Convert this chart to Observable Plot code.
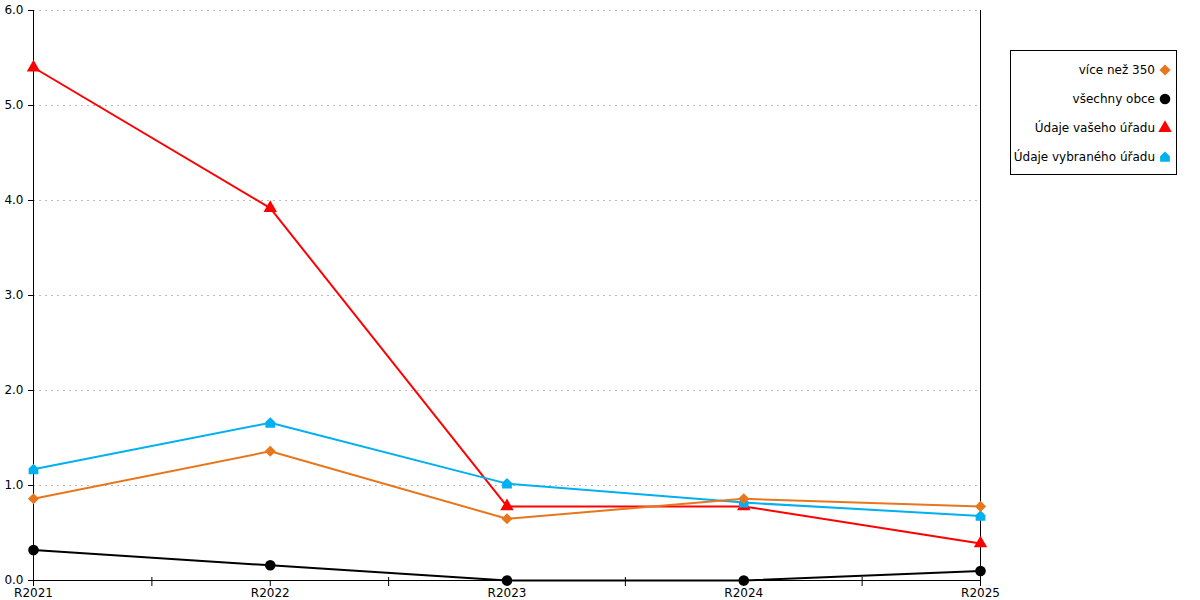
<!DOCTYPE html>
<html>
<head>
<meta charset="utf-8">
<script src="https://cdn.jsdelivr.net/npm/d3@7"></script>
<script src="https://cdn.jsdelivr.net/npm/@observablehq/plot@0.6"></script>
<style>
  html, body { margin: 0; padding: 0; background: #fff; }
  #wrap { position: relative; width: 1200px; height: 600px; font-family: "DejaVu Sans", sans-serif; }
  #legend { position: absolute; left: 1010px; top: 50px; width: 167px; height: 125px; box-sizing: border-box;
            border: 1px solid #000; font-size: 12px; color: #000; padding-top: 4px; }
  .row { display: flex; justify-content: flex-end; align-items: center; height: 29px; padding-right: 3px; }
  .row svg { margin-left: 2px; }
</style>
</head>
<body>
<div id="wrap"><div id="chart"></div><div id="legend"></div></div>
<script>
const categories = ["R2021", "R2022", "R2023", "R2024", "R2025"];
const viceNez350 = [0.86, 1.36, 0.65, 0.86, 0.78];
const vsechnyObce = [0.32, 0.16, 0.0, 0.0, 0.1];
const udajeVasehoUradu = [5.4, 3.92, 0.78, 0.78, 0.39];
const udajeVybranehoUradu = [1.17, 1.66, 1.02, 0.82, 0.68];
const yTicks = [0, 1, 2, 3, 4, 5, 6];

const seriesNames = ["více než 350", "všechny obce", "Údaje vašeho úřadu", "Údaje vybraného úřadu"];
const seriesColors = ["#E8761C", "#000000", "#FF0000", "#00B0F0"];

const house = {
  draw(ctx, size) {
    const h = Math.sqrt(size) / 2;
    ctx.moveTo(0, -h * 1.15);
    ctx.lineTo(h, -h * 0.15);
    ctx.lineTo(h, h);
    ctx.lineTo(-h, h);
    ctx.lineTo(-h, -h * 0.15);
    ctx.closePath();
  }
};
const symbols = ["diamond2", "circle", "triangle", house];
const radii = [5, 5.3, 5, 5.5];

const allSeries = [viceNez350, vsechnyObce, udajeVasehoUradu, udajeVybranehoUradu];
const toRows = vals => categories.map((c, i) => ({i, v: vals[i]}));
const drawOrder = [1, 2, 3, 0];

const idx = categories.map((c, i) => i);
const minor = idx.slice(0, -1).map(i => i + 0.5);

const marks = [
  Plot.gridY(yTicks.filter(d => d > 0), {stroke: "#bbbbbb", strokeOpacity: 1, strokeDasharray: "2,4"}),
  Plot.axisY(yTicks, {tickFormat: d => d.toFixed(1), tickSize: 5, tickPadding: 5, label: null, fontSize: 12}),
  Plot.ruleX([0], {stroke: "#000"}),
  Plot.ruleX([categories.length - 1], {stroke: "#000"}),
  Plot.ruleY([0], {stroke: "#000"}),
  Plot.axisX(idx, {tickFormat: i => categories[i], tickSize: 6, tickPadding: 2, label: null, fontSize: 12}),
  Plot.ruleX(minor, {y1: 0, y2: 0, insetTop: -3, insetBottom: -6, stroke: "#000"})
];
for (const s of drawOrder) {
  const data = toRows(allSeries[s]);
  marks.push(Plot.line(data, {x: "i", y: "v", stroke: seriesColors[s], strokeWidth: 2}));
}
for (const s of drawOrder) {
  const data = toRows(allSeries[s]);
  marks.push(Plot.dot(data, {x: "i", y: "v", fill: seriesColors[s], symbol: () => symbols[s], r: radii[s], stroke: "none"}));
}

const chart = Plot.plot({
  width: 1200, height: 600,
  marginLeft: 33, marginRight: 220, marginTop: 10, marginBottom: 20,
  style: {fontFamily: "DejaVu Sans, sans-serif", fontSize: "12px", color: "#000", background: "#fff", overflow: "visible"},
  x: {domain: [0, categories.length - 1], axis: null},
  y: {domain: [0, 6], axis: null},
  symbol: {type: "identity"},
  marks
});
document.getElementById("chart").appendChild(chart);

const legend = document.getElementById("legend");
seriesNames.forEach((name, s) => {
  const row = document.createElement("div");
  row.className = "row";
  const span = document.createElement("span");
  span.textContent = name;
  row.appendChild(span);
  const svg = d3.create("svg").attr("width", 16).attr("height", 16);
  const sym = typeof symbols[s] === "string"
    ? {diamond2: d3.symbolDiamond2, circle: d3.symbolCircle, triangle: d3.symbolTriangle}[symbols[s]]
    : symbols[s];
  svg.append("path").attr("transform", "translate(8,8)")
    .attr("d", d3.symbol(sym, radii[s] * radii[s] * Math.PI)())
    .attr("fill", seriesColors[s]);
  row.appendChild(svg.node());
  legend.appendChild(row);
});
</script>
</body>
</html>
